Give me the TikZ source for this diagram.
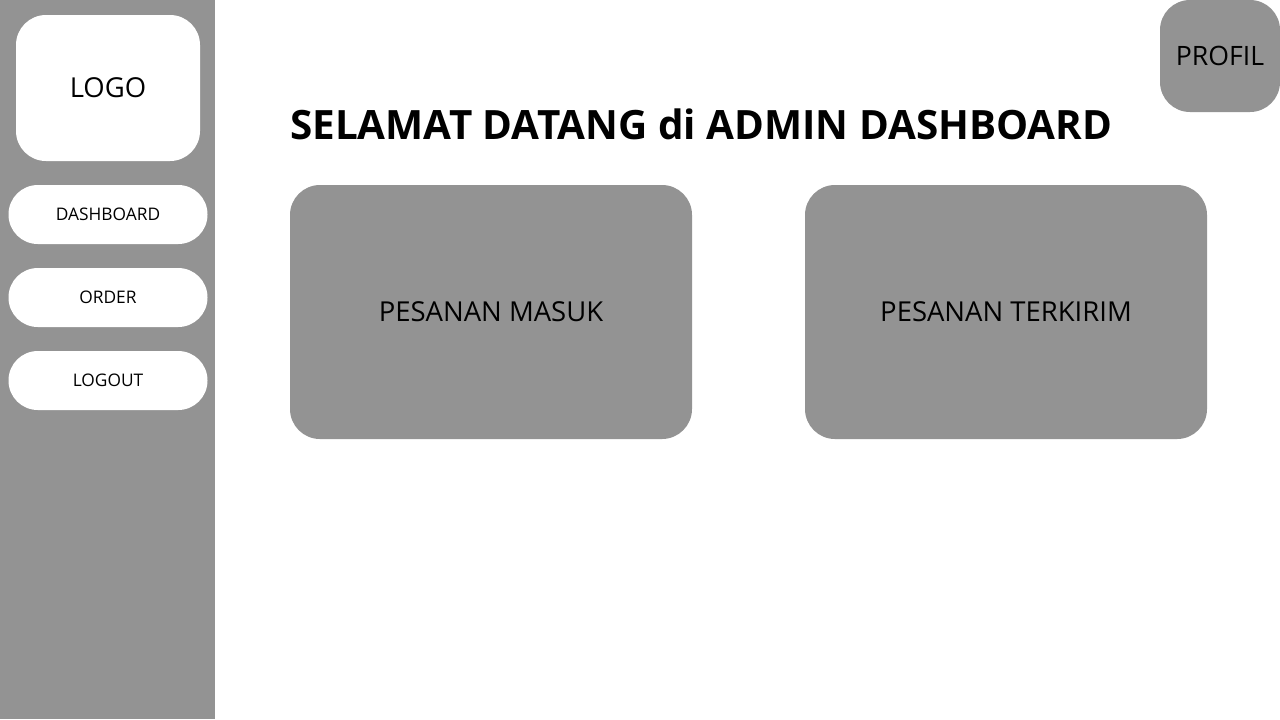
\documentclass[tikz,border=0pt]{standalone}
\usepackage{fontspec}
\setmainfont{Open Sans}
\definecolor{panel}{RGB}{147,147,147}
\tikzset{
  card/.style={fill=panel,rounded corners=22.5pt,inner sep=0pt},
  menubtn/.style={fill=white,rounded corners=22pt,inner sep=0pt,
    minimum width=149.25pt,minimum height=44.25pt,font=\fontsize{13}{16}\selectfont},
}
\begin{document}
\begin{tikzpicture}[x=0.75pt,y=-0.75pt]
  \useasboundingbox (0,0) rectangle (1280,719);
  \fill[white] (0,0) rectangle (1280,719);
  % sidebar
  \fill[panel] (0,0) rectangle (215,719);
  \node[card,fill=white,minimum width=138pt,minimum height=109.5pt,
    font=\fontsize{20.6}{25}\selectfont] (logo) at (108,88) {LOGO};
  \node[menubtn] (dashboard) at (108,214.5) {DASHBOARD};
  \node[menubtn] (order) at (108,297.5) {ORDER};
  \node[menubtn] (logout) at (108,380.5) {LOGOUT};
  % top right
  \node[card,minimum width=90pt,minimum height=84pt,
    font=\fontsize{20}{24}\selectfont] (profil) at (1220,56) {PROFIL};
  \node[anchor=base west,inner sep=0pt,font=\fontsize{30.3}{36}\selectfont\bfseries]
    (title) at (290,139) {SELAMAT DATANG di ADMIN DASHBOARD};
  % cards
  \node[card,minimum width=301.5pt,minimum height=190.5pt,
    font=\fontsize{20.6}{25}\selectfont] (masuk) at (491,312) {PESANAN MASUK};
  \node[card,minimum width=301.5pt,minimum height=190.5pt,
    font=\fontsize{20.6}{25}\selectfont] (terkirim) at (1006,312) {PESANAN TERKIRIM};
\end{tikzpicture}
\end{document}
